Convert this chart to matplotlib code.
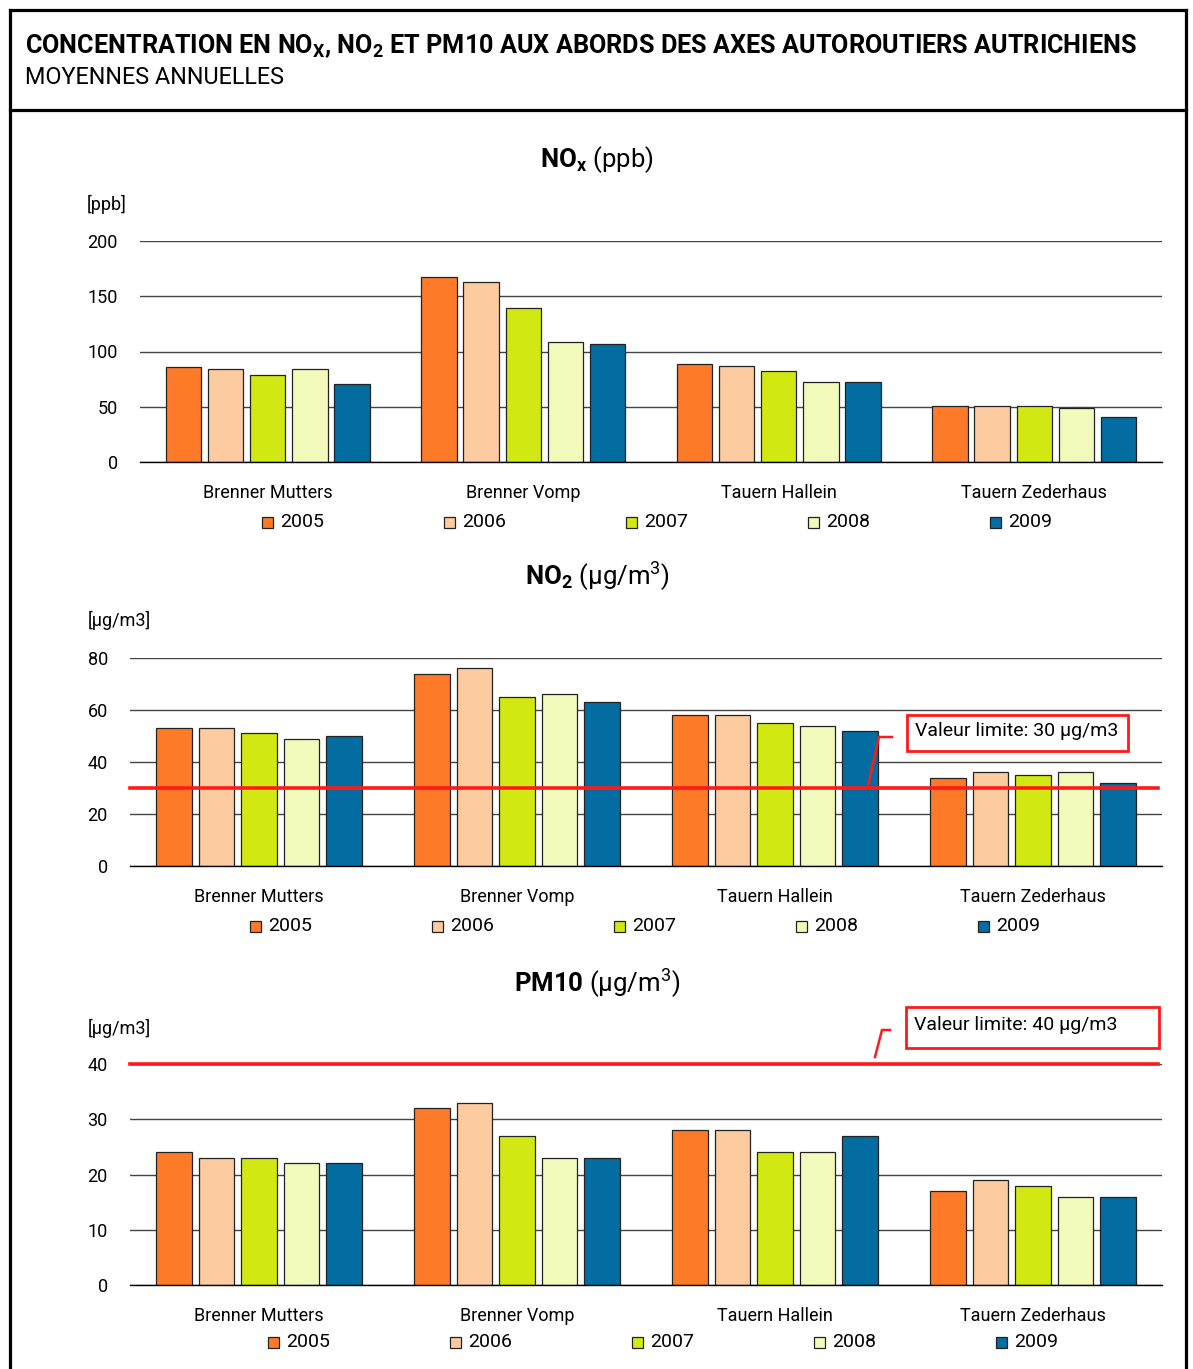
import matplotlib
matplotlib.use("Agg")
import matplotlib.pyplot as plt
from matplotlib.patches import Rectangle
from matplotlib.lines import Line2D

FONT = 'Roboto'
plt.rcParams['font.family'] = [FONT, 'DejaVu Sans']
plt.rcParams['mathtext.fontset'] = 'custom'
plt.rcParams['mathtext.rm'] = FONT
plt.rcParams['mathtext.bf'] = FONT + ':bold'
plt.rcParams['mathtext.it'] = FONT + ':italic'

# ---------------- data ----------------
categories = ["Brenner Mutters", "Brenner Vomp", "Tauern Hallein", "Tauern Zederhaus"]
years = ["2005", "2006", "2007", "2008", "2009"]
colors = ["#FD7B28", "#FDCBA0", "#D2E812", "#F1FABA", "#036DA2"]

nox_2005 = [86, 167, 89, 51]
nox_2006 = [84, 163, 87, 51]
nox_2007 = [79, 139, 82, 51]
nox_2008 = [84, 109, 72, 49]
nox_2009 = [71, 107, 72, 41]

no2_2005 = [53, 74, 58, 34]
no2_2006 = [53, 76, 58, 36]
no2_2007 = [51, 65, 55, 35]
no2_2008 = [49, 66, 54, 36]
no2_2009 = [50, 63, 52, 32]

pm10_2005 = [24, 32, 28, 17]
pm10_2006 = [23, 33, 28, 19]
pm10_2007 = [23, 27, 24, 18]
pm10_2008 = [22, 23, 24, 16]
pm10_2009 = [22, 23, 27, 16]

nox_ticks = [0, 50, 100, 150, 200]
no2_ticks = [0, 20, 40, 60, 80]
pm10_ticks = [0, 10, 20, 30, 40]

no2_limit = 30
pm10_limit = 40

# ---------------- layout ----------------
W, H = 1193, 1369
fig = plt.figure(figsize=(W / 100, H / 100), dpi=100)
renderer = fig.canvas.get_renderer()


def fx(x):
    return x / W


def fy(y):
    return 1 - y / H


def ftext(x, y, s, **kw):
    return fig.text(fx(x), fy(y), s, **kw)


def fit(t, target_px):
    for _ in range(3):
        w = t.get_window_extent(renderer=renderer).width
        if w > 0:
            t.set_fontsize(t.get_fontsize() * target_px / w)


def add_axes_px(x0, x1, ytop, ybot):
    return fig.add_axes([fx(x0), fy(ybot), (x1 - x0) / W, (ybot - ytop) / H])


# outer frame
frame_lw = 2.3
fig.add_artist(Line2D([fx(10), fx(10)], [fy(10), fy(1369)], color='black', lw=frame_lw))
fig.add_artist(Line2D([fx(1186), fx(1186)], [fy(10), fy(1369)], color='black', lw=frame_lw))
fig.add_artist(Line2D([fx(10), fx(1186)], [fy(10), fy(10)], color='black', lw=frame_lw))
fig.add_artist(Line2D([fx(10), fx(1186)], [fy(110), fy(110)], color='black', lw=frame_lw))

t = ftext(25, 46, r"CONCENTRATION EN NO$_\mathbf{X}$, NO$_\mathbf{2}$ ET PM10 AUX ABORDS DES AXES AUTOROUTIERS AUTRICHIENS",
          fontsize=16, fontweight='bold', va='center', ha='left')
fit(t, 1113)
t = ftext(25, 78, "MOYENNES ANNUELLES", fontsize=16, va='center', ha='left')
fit(t, 259)


def panel(series, ticks, box, title, title_y, unit, unit_xy, leg_x0, leg_y, limit=None, limit_box=None):
    x0, x1, ytop, ybot = box
    ax = add_axes_px(x0, x1, ytop, ybot)
    n = len(series)
    step = 0.165
    width = 0.138
    for j, (vals, col, yr) in enumerate(zip(series, colors, years)):
        xs = [i + (j - (n - 1) / 2) * step for i in range(len(categories))]
        ax.bar(xs, vals, width=width, color=col, edgecolor='#222222', linewidth=0.9, zorder=3, label=yr)
    ax.set_xlim(-0.5, len(categories) - 0.5)
    ax.set_ylim(ticks[0], ticks[-1])
    ax.set_yticks(ticks)
    ax.set_xticks(range(len(categories)))
    ax.set_xticklabels(categories, fontsize=13)
    ax.tick_params(axis='x', length=0, pad=16)
    ax.tick_params(axis='y', length=0, pad=16, labelsize=13)
    for s in ['top', 'right', 'left']:
        ax.spines[s].set_visible(False)
    ax.spines['bottom'].set_color('black')
    ax.spines['bottom'].set_linewidth(1.0)
    ax.spines['bottom'].set_zorder(4)
    ax.yaxis.grid(True, color='#444444', linewidth=1.0, zorder=0)
    ax.set_axisbelow(True)
    ftext(597, title_y, title, fontsize=18.5, ha='center', va='center')
    ftext(unit_xy[0], unit_xy[1], unit, fontsize=13, ha='left', va='center')
    for j, (col, yr) in enumerate(zip(colors, years)):
        lx = leg_x0 + j * 182
        fig.add_artist(Rectangle((fx(lx), fy(leg_y + 6)), 11 / W, 11 / H, transform=fig.transFigure,
                                 facecolor=col, edgecolor='#222222', linewidth=0.9))
        ftext(lx + 18, leg_y, yr, fontsize=14, ha='left', va='center')
    if limit is not None:
        ax.axhline(limit, xmax=0.996, color='#FF1A1A', linewidth=2.6, zorder=5, clip_on=False)
        (bx0, bx1, by0, by1, lead, txt) = limit_box
        fig.add_artist(Rectangle((fx(bx0), fy(by1)), (bx1 - bx0) / W, (by1 - by0) / H, transform=fig.transFigure,
                                 facecolor='white', edgecolor='#FF1A1A', linewidth=2.0))
        ftext(bx0 + 8, (by0 + by1) / 2 - 2, txt, fontsize=14, ha='left', va='center')
        xs_l = [fx(p[0]) for p in lead]
        ys_l = [fy(p[1]) for p in lead]
        fig.add_artist(Line2D(xs_l, ys_l, color='#FF1A1A', lw=1.8))
    return ax


nox = [nox_2005, nox_2006, nox_2007, nox_2008, nox_2009]
no2 = [no2_2005, no2_2006, no2_2007, no2_2008, no2_2009]
pm10 = [pm10_2005, pm10_2006, pm10_2007, pm10_2008, pm10_2009]

panel(nox, nox_ticks, (140, 1162, 241, 462), r"$\mathbf{NO_x}$ (ppb)", 160, "[ppb]", (87, 204), 262, 522)
panel(no2, no2_ticks, (130, 1162, 658, 866), r"$\mathbf{NO_2}$ (µg/m$^\mathregular{3}$)", 576, "[µg/m3]", (88, 620),
      250, 926, limit=no2_limit,
      limit_box=(907, 1128, 715, 751, [(868, 786), (879, 737), (892, 737)], "Valeur limite: 30 µg/m3"))
panel(pm10, pm10_ticks, (130, 1162, 1064, 1285), r"$\mathbf{PM10}$ (µg/m$^\mathregular{3}$)", 983, "[µg/m3]", (88, 1028),
      268, 1342, limit=pm10_limit,
      limit_box=(906, 1159, 1007, 1048, [(875, 1057), (882, 1030), (890, 1030)], "Valeur limite: 40 µg/m3"))

fig.savefig("out.png", dpi=100)
